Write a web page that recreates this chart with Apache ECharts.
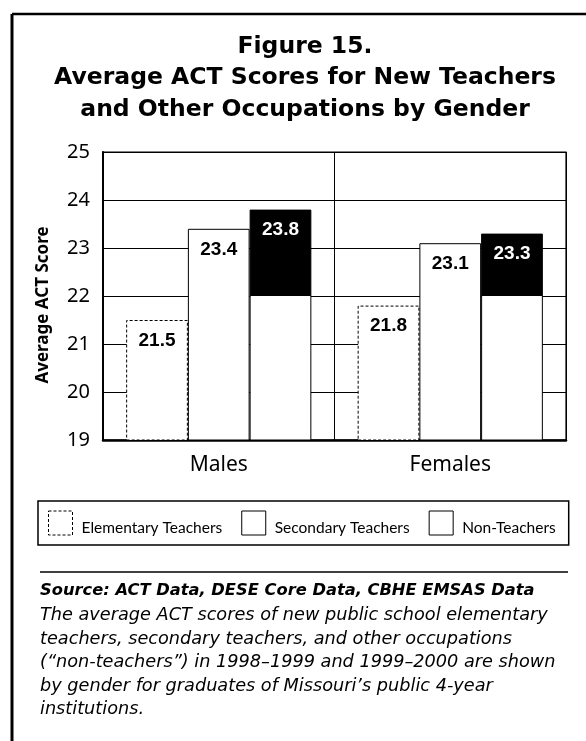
<!DOCTYPE html>
<html>
<head>
<meta charset="utf-8">
<script src="https://cdn.jsdelivr.net/npm/echarts@6/dist/echarts.min.js"></script>
<style>
    html, body { margin: 0; padding: 0; background: #fff; }
    #chart { width: 586px; height: 741px; }
</style>
</head>
<body>
<div id="chart"></div>
<script>
    // data
    const genders = ['Males', 'Females']
    const elementary = [21.5, 21.8]
    const secondary = [23.4, 23.1]
    const nonTeachers = [23.8, 23.3]
    const seriesNames = ['Elementary Teachers', 'Secondary Teachers', 'Non-Teachers']
    const yMin = 19
    const yMax = 25

    // non-teacher bars are black only above 22
    const blackFrom = 22
    function darkTop (v) {
        const f = (v - blackFrom) / (v - yMin)
        return new echarts.graphic.LinearGradient(0, 0, 0, 1, [
            { offset: 0, color: '#000' },
            { offset: f, color: '#000' },
            { offset: f, color: '#fff' },
            { offset: 1, color: '#fff' }
        ])
    }

    const labelFont = {
        show: true,
        position: 'insideTop',
        distance: 11,
        fontFamily: 'Liberation Sans',
        fontWeight: 'bold',
        fontSize: 19,
        color: '#000'
    }

    const iconStyle = { color: '#fff', borderColor: '#000', borderWidth: 1 }

    const myChart = echarts.init(document.getElementById('chart'))

    const option = {
        backgroundColor: '#fff',
        animation: false,
        grid: {
            left: 103,
            right: 20,
            top: 152,
            bottom: 301,
            show: true,
            borderColor: '#000',
            borderWidth: 1.2,
            backgroundColor: 'transparent'
        },
        legend: {
            data: [
                { name: seriesNames[0], itemStyle: Object.assign({}, iconStyle, { borderType: [3, 2] }) },
                { name: seriesNames[1], itemStyle: iconStyle },
                { name: seriesNames[2], itemStyle: iconStyle }
            ],
            left: 38,
            top: 501,
            padding: [9.5, 13, 9.5, 10],
            itemWidth: 24,
            itemHeight: 24,
            itemGap: 19,
            borderColor: '#000',
            borderWidth: 1.5,
            borderRadius: 0,
            icon: 'rect',
            formatter: '{t|{name}}',
            textStyle: {
                color: '#000',
                rich: {
                    t: {
                        fontFamily: 'Lato',
                        fontSize: 15.5,
                        color: '#000',
                        padding: [9, 0, 0, 4]
                    }
                }
            }
        },
        xAxis: {
            type: 'category',
            data: genders,
            axisLine: { lineStyle: { color: '#000', width: 2.5 } },
            axisTick: { show: false },
            splitLine: { show: true, lineStyle: { color: '#000', width: 1 } },
            axisLabel: {
                margin: 15,
                fontFamily: 'Noto Sans',
                fontSize: 21,
                color: '#000'
            }
        },
        yAxis: {
            type: 'value',
            min: yMin,
            max: yMax,
            interval: 1,
            name: 'Average ACT Score',
            nameLocation: 'middle',
            nameRotate: 90,
            nameGap: 51,
            nameTextStyle: {
                fontFamily: 'Noto Sans',
                fontWeight: 'bold',
                fontSize: 17,
                color: '#000',
                padding: [0, 18, 0, 0]
            },
            axisLine: { show: true, lineStyle: { color: '#000', width: 2 } },
            axisTick: { show: false },
            splitLine: { show: true, lineStyle: { color: '#000', width: 1.2 } },
            axisLabel: {
                margin: 13,
                fontFamily: 'Noto Sans',
                fontSize: 20,
                color: '#000'
            }
        },
        series: [
            {
                name: seriesNames[0],
                type: 'bar',
                data: elementary,
                barGap: 0,
                barCategoryGap: '20%',
                itemStyle: { color: '#fff', borderColor: '#000', borderWidth: 1, borderType: [3, 2] },
                label: labelFont
            },
            {
                name: seriesNames[1],
                type: 'bar',
                data: secondary,
                barGap: 0,
                barCategoryGap: '20%',
                itemStyle: { color: '#fff', borderColor: '#000', borderWidth: 1 },
                label: labelFont
            },
            {
                name: seriesNames[2],
                type: 'bar',
                data: nonTeachers.map(v => ({ value: v, itemStyle: { color: darkTop(v) } })),
                barGap: 0,
                barCategoryGap: '20%',
                itemStyle: { color: '#000', borderColor: '#000', borderWidth: 1 },
                label: Object.assign({}, labelFont, { color: '#fff' })
            }
        ],
        graphic: [
            // outer frame (top and left edges)
            { type: 'line', shape: { x1: 12, y1: 14, x2: 586, y2: 14 }, style: { stroke: '#000', lineWidth: 2.5 } },
            { type: 'line', shape: { x1: 12, y1: 14, x2: 12, y2: 741 }, style: { stroke: '#000', lineWidth: 3 } },
            {
                type: 'text',
                x: 305,
                y: 31,
                style: {
                    text: 'Figure 15.\nAverage ACT Scores for New Teachers\nand Other Occupations by Gender',
                    textAlign: 'center',
                    textVerticalAlign: 'top',
                    font: 'bold 23.5px "DejaVu Sans"',
                    lineHeight: 31.5,
                    fill: '#000'
                }
            },
            // rule above the source note
            { type: 'line', shape: { x1: 40, y1: 572, x2: 568, y2: 572 }, style: { stroke: '#000', lineWidth: 1.5 } },
            {
                type: 'text',
                x: 40,
                y: 591,
                style: {
                    text: 'Source: ACT Data, DESE Core Data, CBHE EMSAS Data',
                    textAlign: 'left',
                    textVerticalAlign: 'middle',
                    font: 'italic bold 16.3px "DejaVu Sans"',
                    fill: '#000'
                }
            },
            {
                type: 'text',
                x: 40,
                y: 604,
                style: {
                    text: 'The average ACT scores of new public school elementary\nteachers, secondary teachers, and other occupations\n(\u201cnon-teachers\u201d) in 1998\u20131999 and 1999\u20132000 are shown\nby gender for graduates of Missouri\u2019s public 4-year\ninstitutions.',
                    textAlign: 'left',
                    textVerticalAlign: 'top',
                    font: 'italic 17.7px "DejaVu Sans"',
                    lineHeight: 23.5,
                    fill: '#000'
                }
            }
        ]
    }

    myChart.setOption(option)
</script>
</body>
</html>
